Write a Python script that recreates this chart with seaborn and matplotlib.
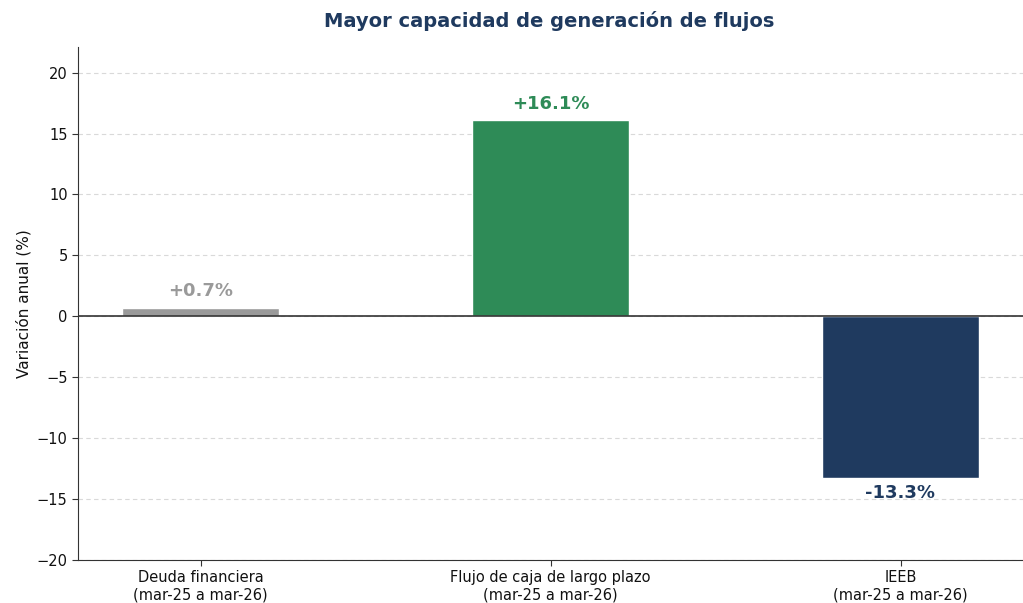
import seaborn as sns
import matplotlib.pyplot as plt
import pandas as pd

categorias = ["Deuda financiera\n(mar-25 a mar-26)",
              "Flujo de caja de largo plazo\n(mar-25 a mar-26)",
              "IEEB\n(mar-25 a mar-26)"]
variacion = [0.7, 16.1, -13.3]
etiquetas = ["+0.7%", "+16.1%", "-13.3%"]
colores = ["#9a9a9a", "#2e8b57", "#1f3a5f"]

df = pd.DataFrame({"cat": categorias, "val": variacion})

sns.set_style("white")
plt.rcParams["font.family"] = ["DejaVu Sans"]

fig = plt.figure(figsize=(10.23, 6.03), dpi=100)
ax = fig.add_axes([78 / 1023, 1 - 560 / 603, 1 - 78 / 1023, (560 - 47) / 603])

sns.barplot(data=df, x="cat", y="val", hue="cat", palette=colores,
            width=0.45, legend=False, ax=ax, saturation=1)

ax.axhline(0, color="#333333", linewidth=1.2, zorder=3)
ax.yaxis.grid(True, linestyle=(0, (4, 3)), color="#d9d9d9", linewidth=0.8)
ax.set_axisbelow(True)

for i, (v, t) in enumerate(zip(variacion, etiquetas)):
    if v >= 0:
        ax.text(i, v + 0.6, t, ha="center", va="bottom", fontsize=13,
                fontweight="bold", color=colores[i])
    else:
        ax.text(i, v - 0.45, t, ha="center", va="top", fontsize=13,
                fontweight="bold", color=colores[i])

ax.set_ylim(-20, 22.1)
ax.set_xlim(-0.35, 2.35)
ax.set_yticks(range(-20, 21, 5))
ax.set_xlabel("")
ax.set_ylabel("Variación anual (%)", fontsize=11, color="#111111")
ax.tick_params(axis="both", labelsize=10.5, length=4, color="#333333",
               labelcolor="#111111")
ax.tick_params(axis="x", bottom=True)
ax.tick_params(axis="y", left=True)
for s in ["top", "right"]:
    ax.spines[s].set_visible(False)
for s in ["left", "bottom"]:
    ax.spines[s].set_color("#333333")

fig.suptitle("Mayor capacidad de generación de flujos", x=0.537, y=0.982,
             fontsize=14, fontweight="bold", color="#1f3a5f")

fig.savefig("out.png", dpi=100)
